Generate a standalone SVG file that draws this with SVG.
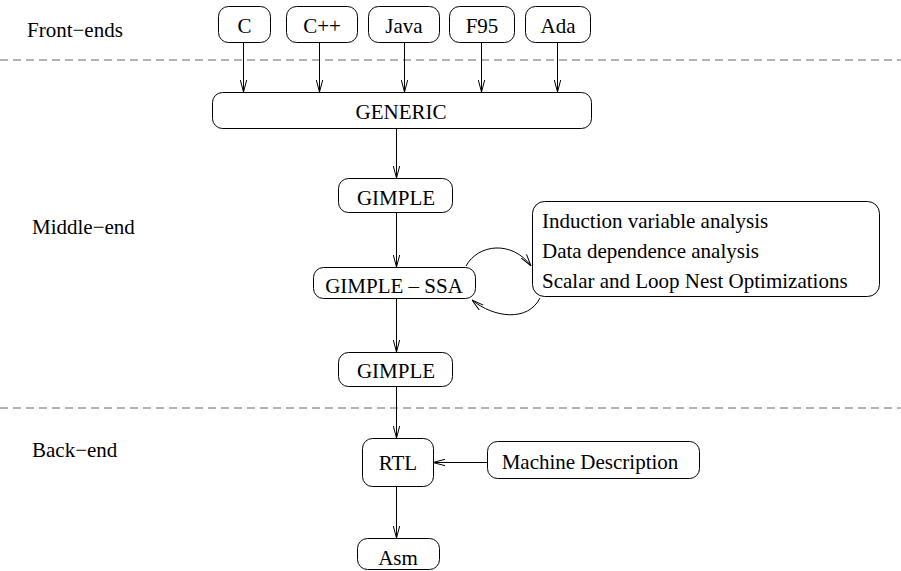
<svg xmlns="http://www.w3.org/2000/svg" width="901" height="571" viewBox="0 0 901 571">
<defs>
<style>
.c{text-anchor:middle}
.box{fill:#fff;stroke:#000;stroke-width:1}
.sep{stroke:#666;stroke-width:1;stroke-dasharray:8 5;fill:none}
.edge{stroke:#000;stroke-width:1;fill:none;marker-end:url(#ah)}
</style>
<marker id="ah" viewBox="0 0 12 8" refX="12" refY="4" markerWidth="12" markerHeight="8" markerUnits="userSpaceOnUse" orient="auto">
<path d="M0,0.8 L12,4 L0,7.2" fill="none" stroke="#000" stroke-width="1"/>
</marker>
</defs>
<rect width="901" height="571" fill="#fff"/>
<g id="separators">
<line class="sep" x1="0" y1="60" x2="901" y2="60"/>
<line class="sep" x1="0" y1="408" x2="901" y2="408"/>
</g>
<g font-family="'Liberation Serif', 'Times New Roman', Times, serif" font-size="21" fill="#000">
<g id="labels">
<text x="27" y="37">Front−ends</text>
<text x="32" y="234">Middle−end</text>
<text x="32" y="457">Back−end</text>
</g>
<g id="connectors">
<line class="edge" x1="243.5" y1="42" x2="243.5" y2="92"/>
<line class="edge" x1="319.5" y1="42" x2="319.5" y2="92"/>
<line class="edge" x1="404.5" y1="42" x2="404.5" y2="92"/>
<line class="edge" x1="481.5" y1="42" x2="481.5" y2="92"/>
<line class="edge" x1="557.5" y1="42" x2="557.5" y2="92"/>
<line class="edge" x1="396.5" y1="128" x2="396.5" y2="178"/>
<line class="edge" x1="396.5" y1="213" x2="396.5" y2="267"/>
<line class="edge" x1="396.5" y1="298" x2="396.5" y2="352"/>
<line class="edge" x1="396.5" y1="386" x2="396.5" y2="438"/>
<line class="edge" x1="396.5" y1="486" x2="396.5" y2="538"/>
<line class="edge" x1="487" y1="462.5" x2="433" y2="462.5"/>
<path class="edge" d="M466,266 C478,244 512,240 531,266"/>
<path class="edge" d="M540,298 C528,322 494,318 472,300"/>
</g>
<g id="node-c"><rect class="box" x="218.5" y="6.5" width="52" height="36" rx="10"/><text class="c" x="244.5" y="33">C</text></g>
<g id="node-cpp"><rect class="box" x="286.5" y="6.5" width="71" height="36" rx="10"/><text class="c" x="322" y="33">C++</text></g>
<g id="node-java"><rect class="box" x="368.5" y="6.5" width="71" height="36" rx="10"/><text class="c" x="404" y="33">Java</text></g>
<g id="node-f95"><rect class="box" x="449.5" y="6.5" width="65" height="36" rx="10"/><text class="c" x="482" y="33">F95</text></g>
<g id="node-ada"><rect class="box" x="525.5" y="6.5" width="65" height="36" rx="10"/><text class="c" x="558" y="33">Ada</text></g>
<g id="node-generic"><rect class="box" x="212.5" y="92.5" width="379" height="36" rx="10"/><text class="c" x="401" y="119">GENERIC</text></g>
<g id="node-gimple1"><rect class="box" x="338.5" y="178.5" width="114" height="34" rx="10"/><text class="c" x="396" y="205">GIMPLE</text></g>
<g id="node-ssa"><rect class="box" x="313.5" y="267.5" width="162" height="31" rx="10"/><text class="c" x="394" y="293">GIMPLE – SSA</text></g>
<g id="node-opts"><rect class="box" x="532.5" y="201.5" width="347" height="95" rx="12"/>
<text x="542" y="228">Induction variable analysis</text>
<text x="542" y="258">Data dependence analysis</text>
<text x="542" y="288">Scalar and Loop Nest Optimizations</text></g>
<g id="node-gimple2"><rect class="box" x="338.5" y="352.5" width="114" height="34" rx="10"/><text class="c" x="396" y="378">GIMPLE</text></g>
<g id="node-rtl"><rect class="box" x="362.5" y="438.5" width="71" height="48" rx="10"/><text class="c" x="398" y="470">RTL</text></g>
<g id="node-md"><rect class="box" x="487.5" y="441.5" width="212" height="37" rx="10"/><text class="c" x="590" y="469">Machine Description</text></g>
<g id="node-asm"><rect class="box" x="357.5" y="538.5" width="82" height="31" rx="10"/><text class="c" x="398" y="565">Asm</text></g>
</g>
</svg>
